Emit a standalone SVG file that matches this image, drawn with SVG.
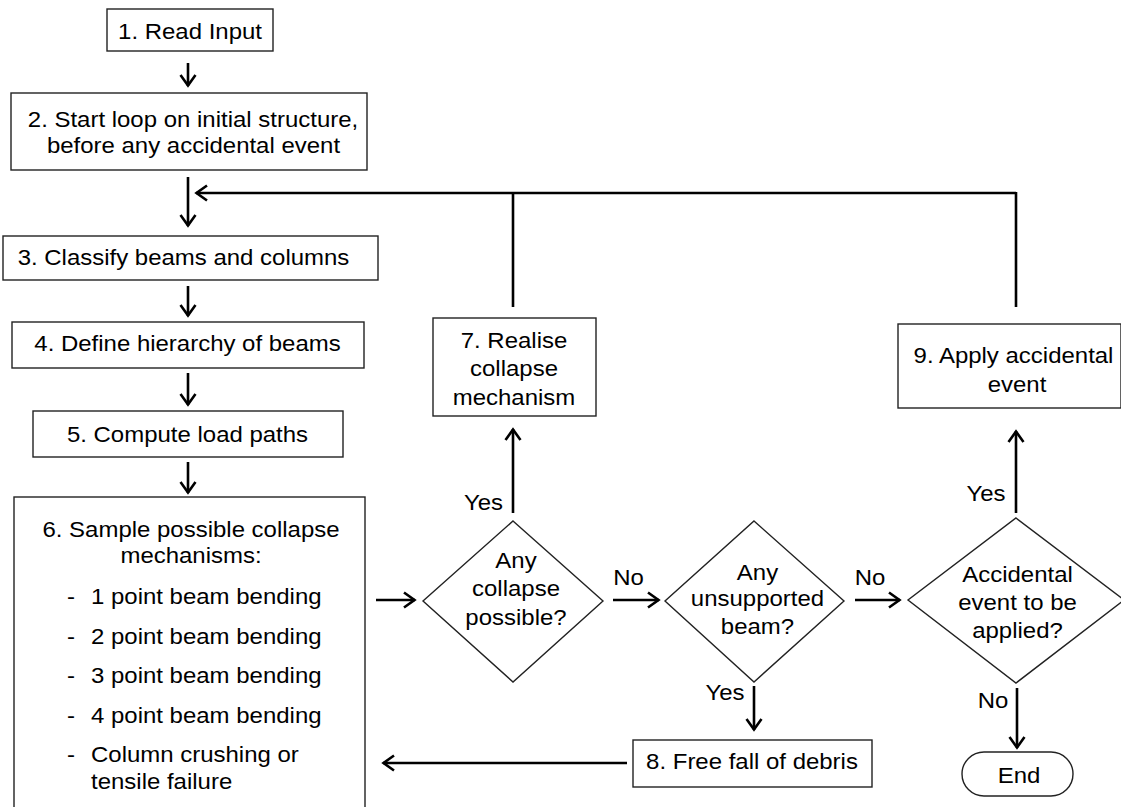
<svg xmlns="http://www.w3.org/2000/svg" width="1121" height="807" viewBox="0 0 1121 807">
<style>
text{font-family:"Liberation Sans",Arial,sans-serif;font-size:22px;fill:#000}
.c{text-anchor:middle}
.box{fill:#fff;stroke:#222;stroke-width:1.4}
.con{fill:none;stroke:#000;stroke-width:2.6}
</style>
<defs>
<marker id="ah" markerUnits="userSpaceOnUse" markerWidth="30" markerHeight="30" viewBox="-15 -15 30 30" refX="0" refY="0" orient="auto" overflow="visible">
<path d="M-11,-7.5 L-0.5,0 L-11,7.5" fill="none" stroke="#000" stroke-width="2.6"/>
</marker>
</defs>
<rect width="1121" height="807" fill="#fff"/>

<g id="connectors" class="con">
<line x1="188" y1="63" x2="188" y2="86" marker-end="url(#ah)"/>
<line x1="188" y1="177" x2="188" y2="226" marker-end="url(#ah)"/>
<line x1="1016" y1="193" x2="196" y2="193" marker-end="url(#ah)"/>
<line x1="513" y1="307" x2="513" y2="193"/>
<line x1="1016" y1="307" x2="1016" y2="192"/>
<line x1="188" y1="286" x2="188" y2="316" marker-end="url(#ah)"/>
<line x1="188" y1="373" x2="188" y2="405" marker-end="url(#ah)"/>
<line x1="188" y1="462" x2="188" y2="493" marker-end="url(#ah)"/>
<line x1="376" y1="600" x2="415" y2="600" marker-end="url(#ah)"/>
<line x1="513" y1="513" x2="513" y2="429" marker-end="url(#ah)"/>
<line x1="613" y1="600" x2="659" y2="600" marker-end="url(#ah)"/>
<line x1="855" y1="600" x2="900" y2="600" marker-end="url(#ah)"/>
<line x1="754" y1="686" x2="754" y2="730" marker-end="url(#ah)"/>
<line x1="627" y1="763" x2="383" y2="763" marker-end="url(#ah)"/>
<line x1="1016" y1="513" x2="1016" y2="431" marker-end="url(#ah)"/>
<line x1="1017" y1="688" x2="1017" y2="748" marker-end="url(#ah)"/>
</g>

<g id="labels">
<text class="c" transform="translate(483.5 0) scale(1.09 1)" x="0" y="510">Yes</text>
<text class="c" transform="translate(628.5 0) scale(1.09 1)" x="0" y="585">No</text>
<text class="c" transform="translate(870 0) scale(1.09 1)" x="0" y="585">No</text>
<text class="c" transform="translate(725 0) scale(1.09 1)" x="0" y="700">Yes</text>
<text class="c" transform="translate(986 0) scale(1.09 1)" x="0" y="501">Yes</text>
<text class="c" transform="translate(993 0) scale(1.09 1)" x="0" y="708">No</text>
</g>

<g id="n1">
<rect class="box" x="107" y="9" width="166" height="42"/>
<text class="c" transform="translate(190 0) scale(1.09 1)" x="0" y="39">1. Read Input</text>
</g>
<g id="n2">
<rect class="box" x="11" y="93" width="356" height="77"/>
<text class="c" transform="translate(193 0) scale(1.09 1)" x="0" y="127">2. Start loop on initial structure,</text>
<text class="c" transform="translate(193.5 0) scale(1.09 1)" x="0" y="153">before any accidental event</text>
</g>
<g id="n3">
<rect class="box" x="3" y="236" width="375" height="44"/>
<text class="c" transform="translate(183.5 0) scale(1.09 1)" x="0" y="265">3. Classify beams and columns</text>
</g>
<g id="n4">
<rect class="box" x="12" y="322" width="352" height="46"/>
<text class="c" transform="translate(187.5 0) scale(1.09 1)" x="0" y="351">4. Define hierarchy of beams</text>
</g>
<g id="n5">
<rect class="box" x="33" y="411" width="310" height="46"/>
<text class="c" transform="translate(187.5 0) scale(1.09 1)" x="0" y="442">5. Compute load paths</text>
</g>
<g id="n6">
<rect class="box" x="14" y="497" width="351" height="330"/>
<text class="c" transform="translate(191 0) scale(1.09 1)" x="0" y="537">6. Sample possible collapse</text>
<text class="c" transform="translate(191 0) scale(1.09 1)" x="0" y="563">mechanisms:</text>
<text transform="translate(67 0) scale(1.09 1)" x="0" y="604">-</text>
<text transform="translate(91 0) scale(1.09 1)" x="0" y="604">1 point beam bending</text>
<text transform="translate(67 0) scale(1.09 1)" x="0" y="644">-</text>
<text transform="translate(91 0) scale(1.09 1)" x="0" y="644">2 point beam bending</text>
<text transform="translate(67 0) scale(1.09 1)" x="0" y="683">-</text>
<text transform="translate(91 0) scale(1.09 1)" x="0" y="683">3 point beam bending</text>
<text transform="translate(67 0) scale(1.09 1)" x="0" y="723">-</text>
<text transform="translate(91 0) scale(1.09 1)" x="0" y="723">4 point beam bending</text>
<text transform="translate(67 0) scale(1.09 1)" x="0" y="762">-</text>
<text transform="translate(91 0) scale(1.09 1)" x="0" y="762">Column crushing or</text>
<text transform="translate(91 0) scale(1.09 1)" x="0" y="789">tensile failure</text>
</g>
<g id="n7">
<rect class="box" x="433" y="318" width="163" height="98"/>
<text class="c" transform="translate(514 0) scale(1.09 1)" x="0" y="348">7. Realise</text>
<text class="c" transform="translate(514 0) scale(1.09 1)" x="0" y="376">collapse</text>
<text class="c" transform="translate(514 0) scale(1.09 1)" x="0" y="405">mechanism</text>
</g>
<g id="d1">
<polygon class="box" points="513,521 603,601 513,682 423,601"/>
<text class="c" transform="translate(516 0) scale(1.09 1)" x="0" y="568">Any</text>
<text class="c" transform="translate(516 0) scale(1.09 1)" x="0" y="596">collapse</text>
<text class="c" transform="translate(516 0) scale(1.09 1)" x="0" y="625">possible?</text>
</g>
<g id="d2">
<polygon class="box" points="754,521 844,601 754,682 665,601"/>
<text class="c" transform="translate(757.5 0) scale(1.09 1)" x="0" y="580">Any</text>
<text class="c" transform="translate(757.5 0) scale(1.09 1)" x="0" y="606">unsupported</text>
<text class="c" transform="translate(757.5 0) scale(1.09 1)" x="0" y="634">beam?</text>
</g>
<g id="d3">
<polygon class="box" points="1016,518 1124,600 1016,683 908,600"/>
<text class="c" transform="translate(1017.5 0) scale(1.09 1)" x="0" y="582">Accidental</text>
<text class="c" transform="translate(1017.5 0) scale(1.09 1)" x="0" y="610">event to be</text>
<text class="c" transform="translate(1017.5 0) scale(1.09 1)" x="0" y="638">applied?</text>
</g>
<g id="n8">
<rect class="box" x="633" y="740" width="239" height="47"/>
<text class="c" transform="translate(752 0) scale(1.09 1)" x="0" y="769">8. Free fall of debris</text>
</g>
<g id="n9">
<rect class="box" x="898" y="324" width="223" height="84"/>
<text class="c" transform="translate(1013.5 0) scale(1.09 1)" x="0" y="363">9. Apply accidental</text>
<text class="c" transform="translate(1017 0) scale(1.09 1)" x="0" y="392">event</text>
</g>
<g id="end">
<rect class="box" x="962" y="752" width="111" height="44" rx="22" ry="22"/>
<text class="c" transform="translate(1019 0) scale(1.09 1)" x="0" y="783">End</text>
</g>
</svg>
